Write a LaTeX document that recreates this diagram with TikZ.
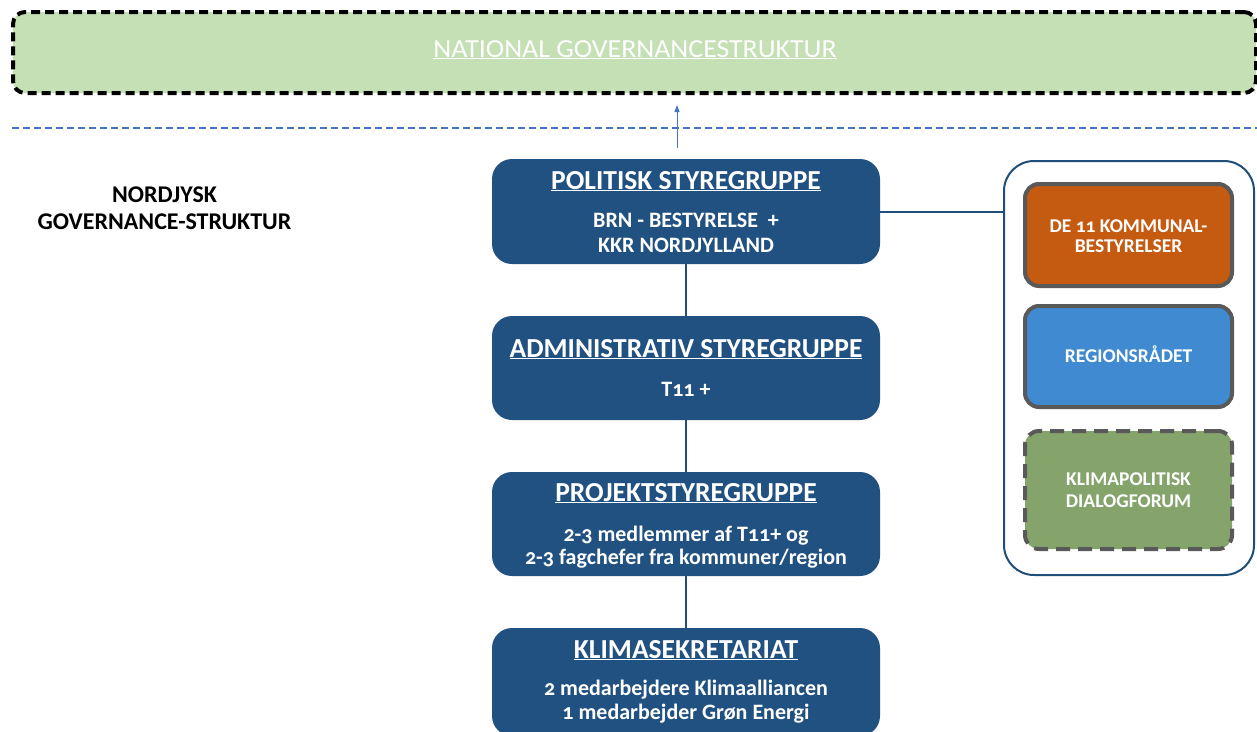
\documentclass[tikz,border=0pt]{standalone}
\usepackage{fontspec}
\usepackage{graphicx}
\setmainfont{Carlito}[Numbers=OldStyle]
\usetikzlibrary{arrows.meta}
\definecolor{navy}{HTML}{215181}
\definecolor{navyline}{HTML}{1F4E79}
\definecolor{natgreen}{HTML}{C5E0B4}
\definecolor{lineblue}{HTML}{4472C4}
\definecolor{orangebox}{HTML}{C55A11}
\definecolor{bluebox}{HTML}{3F8AD0}
\definecolor{greenbox}{HTML}{84A46C}
\definecolor{greyborder}{HTML}{595959}
\tikzset{
  navybox/.style={draw=none, fill=navy, rounded corners=20pt, minimum width=388pt, inner sep=0pt},
  titletext/.style={text=white, font=\bfseries\fontsize{27.5}{32}\selectfont, anchor=base},
  subtext/.style={text=white, font=\bfseries\fontsize{22}{26}\selectfont, anchor=base},
  sidebox/.style={draw=greyborder, line width=4pt, rounded corners=14pt, minimum width=207pt, inner sep=0pt},
  sidetext/.style={text=white, font=\bfseries\fontsize{19.5}{21}\selectfont, anchor=base},
  conn/.style={draw=navyline, line width=2pt},
}
\begin{document}
\begin{tikzpicture}[x=1pt,y=-1pt]
\useasboundingbox (0,0) rectangle (1257,731);
% national box
\node[draw=black, fill=natgreen, line width=4pt, dash pattern=on 9pt off 5pt, rounded corners=12pt,
      minimum width=1243pt, minimum height=81pt, inner sep=0pt] (nat) at (634.5,52.5) {};
\node[text=white, font=\fontsize{26}{30}\selectfont, anchor=base] (natt) at (635,57) {\scalebox{1.07}[1]{\underline{NATIONAL GOVERNANCESTRUKTUR}}};
% dashed separator
\coordinate (sepL) at (12,128);
\coordinate (sepR) at (1257,128);
\draw[lineblue, line width=1.3pt, dash pattern=on 7pt off 4pt] (sepL) -- (sepR);
% left label
\node[font=\bfseries\fontsize{24}{28}\selectfont, anchor=base] (nl1) at (164.5,202) {NORDJYSK};
\node[font=\bfseries\fontsize{24}{28}\selectfont, anchor=base] (nl2) at (164.5,229) {GOVERNANCE-STRUKTUR};
% boxes
\node[navybox, minimum height=105pt] (pol) at (686,211.5) {};
\node[navybox, minimum height=104pt] (adm) at (686,368) {};
\node[navybox, minimum height=104pt] (prj) at (686,524) {};
\node[navybox, minimum height=108pt] (kli) at (686,682) {};
\node[titletext] (polt) at (686,189) {\underline{POLITISK STYREGRUPPE}};
\node[subtext] (pols1) at (686,227) {BRN - BESTYRELSE\ \ +};
\node[subtext] (pols2) at (686,252) {KKR NORDJYLLAND};
\node[titletext] (admt) at (686,357) {\underline{ADMINISTRATIV STYREGRUPPE}};
\node[subtext] (adms1) at (686,396) {T11 +};
\node[titletext] (prjt) at (686,501) {\underline{PROJEKTSTYREGRUPPE}};
\node[subtext] (prjs1) at (686,541) {2-3 medlemmer af T11+ og};
\node[subtext] (prjs2) at (686,564) {2-3 fagchefer fra kommuner/region};
\node[titletext] (klit) at (686,658) {\underline{KLIMASEKRETARIAT}};
\node[subtext] (klis1) at (686,695) {2 medarbejdere Klimaalliancen};
\node[subtext] (klis2) at (686,719) {1 medarbejder Grøn Energi};
% vertical connectors
\draw[conn] (pol.south) -- (adm.north);
\draw[conn] (adm.south) -- (prj.north);
\draw[conn] (prj.south) -- (kli.north);
% arrow up to national
\coordinate (arrtop) at (677,105);
\coordinate (arrbot) at (677,148);
\draw[lineblue, line width=1pt, -{Triangle[length=7pt,width=5pt]}] (arrbot) -- (arrtop);
% right container
\node[draw=navyline, line width=2pt, fill=white, rounded corners=30pt, minimum width=250pt, minimum height=414pt, inner sep=0pt] (cont) at (1129,368) {};
\draw[conn] (pol.east) -- (pol.east -| cont.west);
\node[sidebox, fill=orangebox, minimum height=102pt] (kom) at (1128.5,235) {};
\node[sidetext] (komt1) at (1128.5,232) {DE 11 KOMMUNAL-};
\node[sidetext] (komt2) at (1128.5,252) {BESTYRELSER};
\node[sidebox, fill=bluebox, minimum height=101pt] (reg) at (1128.5,356.5) {};
\node[sidetext] (regt) at (1128.5,362) {REGIONSRÅDET};
\node[sidebox, fill=greenbox, minimum height=118pt, dash pattern=on 14pt off 8pt] (dia) at (1128.5,490) {};
\node[sidetext] (diat1) at (1128.5,485) {KLIMAPOLITISK};
\node[sidetext] (diat2) at (1128.5,507) {DIALOGFORUM};
\end{tikzpicture}
\end{document}
